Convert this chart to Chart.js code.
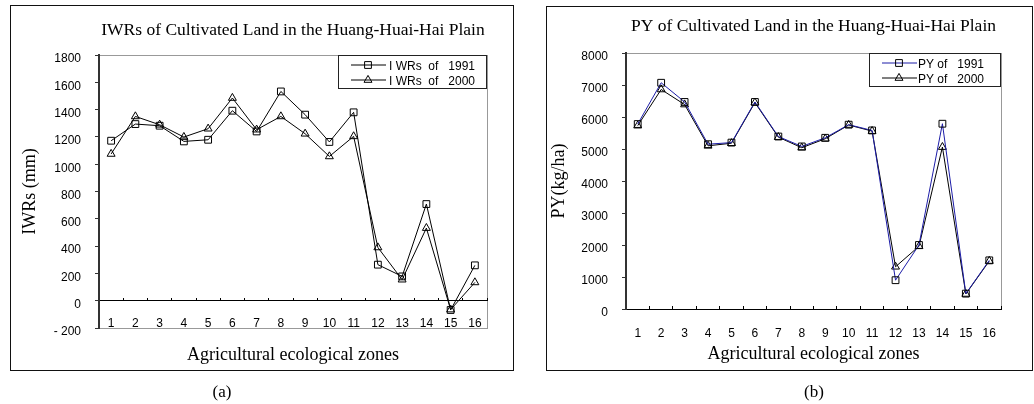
<!DOCTYPE html>
<html>
<head>
<meta charset="utf-8">
<script src="https://cdn.jsdelivr.net/npm/chart.js@4.4.1/dist/chart.umd.min.js"></script>
<style>
  body { margin: 0; background: #fff; width: 1034px; height: 404px; position: relative; overflow: hidden; }
  .panel { position: absolute; border: 1.5px solid #111; box-sizing: border-box; }
  #panelA { left: 10px; top: 5px; width: 504px; height: 366px; }
  #panelB { left: 546px; top: 6px; width: 487px; height: 365px; }
  canvas { position: absolute; top: 0; }
  #iwrChart { left: 0; }
  #pyChart { left: 517px; }
  .caption { position: absolute; top: 382px; width: 60px; text-align: center; line-height: 20px;
             font: 17px "Liberation Serif", "Times New Roman", serif; }
</style>
</head>
<body>
<div class="panel" id="panelA"></div>
<div class="panel" id="panelB"></div>
<canvas id="iwrChart" width="517" height="404"></canvas>
<canvas id="pyChart" width="517" height="404"></canvas>
<div class="caption" style="left:192px">(a)</div>
<div class="caption" style="left:784px">(b)</div>
<script>
const zones = ['1', '2', '3', '4', '5', '6', '7', '8', '9', '10', '11', '12', '13', '14', '15', '16'];

const iwr1991 = [1172, 1294, 1282, 1167, 1179, 1392, 1240, 1533, 1363, 1163, 1380, 264, 178, 708, -68, 259];
const iwr2000 = [1075, 1350, 1289, 1199, 1260, 1485, 1253, 1350, 1223, 1057, 1204, 390, 154, 532, -65, 134];

const py1991 = [5780, 7070, 6470, 5150, 5200, 6470, 5390, 5080, 5350, 5760, 5580, 900, 2000, 5790, 480, 1520];
const py2000 = [5730, 6860, 6390, 5100, 5180, 6450, 5370, 5040, 5320, 5750, 5560, 1320, 1960, 5060, 470, 1500];

const serif = '"Liberation Serif", "Times New Roman", serif';
const sans = '"Liberation Sans", Arial, sans-serif';

// frame of the plot area (top, right, bottom); axes are drawn over it
const plotFrame = {
    id: 'plotFrame',
    beforeDraw(chart, args, opts) {
        const { ctx, chartArea: a } = chart;
        ctx.save();
        ctx.strokeStyle = opts.color;
        ctx.lineWidth = 1;
        ctx.strokeRect(a.left + 0.5, a.top + 0.5, a.right - a.left, a.bottom - a.top);
        ctx.restore();
    }
};

// Excel style legend: line with marker, boxed in the top right corner
const markerLegend = {
    id: 'markerLegend',
    afterDatasetsDraw(chart, args, opts) {
        const { ctx, chartArea } = chart;
        const x = chartArea.right - opts.width;
        const y = chartArea.top;
        ctx.save();
        ctx.fillStyle = '#fff';
        ctx.fillRect(x, y, opts.width, opts.height);
        ctx.strokeStyle = '#222';
        ctx.lineWidth = 1;
        ctx.strokeRect(x + 0.5, y + 0.5, opts.width - 1, opts.height - 1);
        ctx.font = '12px ' + sans;
        ctx.textBaseline = 'middle';
        chart.data.datasets.forEach((ds, i) => {
            const rowY = y + 10 + i * 15;
            ctx.strokeStyle = ds.borderColor;
            ctx.beginPath();
            ctx.moveTo(x + 13, rowY);
            ctx.lineTo(x + 48, rowY);
            ctx.stroke();
            ctx.strokeStyle = ds.pointBorderColor;
            ctx.fillStyle = 'rgba(0,0,0,0)';
            Chart.helpers.drawPoint(ctx, { pointStyle: ds.pointStyle, radius: ds.pointRadius, borderWidth: 1, rotation: 0 }, x + 30, rowY);
            ctx.fillStyle = '#000';
            ctx.fillText(ds.legendText, x + opts.textX, rowY + 2);
        });
        ctx.restore();
    }
};

function serie(label, legendText, data, color, style, radius) {
    return {
        label, legendText, data,
        borderColor: color,
        borderWidth: 1,
        tension: 0,
        pointStyle: style,
        pointRadius: radius,
        pointHoverRadius: radius,
        pointBorderColor: '#000',
        pointBorderWidth: 1,
        pointBackgroundColor: 'rgba(0,0,0,0)'
    };
}

function yAxis(min, max, step, width, titleText) {
    return {
        min, max,
        afterFit: s => { s.width = width; },
        ticks: {
            stepSize: step,
            padding: 14,
            labelOffset: 4,
            color: '#000',
            font: { family: sans, size: 12 },
            callback: v => (v < 0 ? '- ' + Math.abs(v) : String(v))
        },
        grid: { drawOnChartArea: false, drawTicks: true, tickLength: 4, color: '#333' },
        border: { display: true, color: '#333', width: 2 },
        title: {
            display: true, text: titleText, color: '#000',
            font: { family: serif, size: 18, lineHeight: 1 },
            padding: { top: 1, bottom: 0 }
        }
    };
}

function xTitle(bottomPad) {
    return {
        display: true, text: 'Agricultural ecological zones', color: '#000',
        font: { family: serif, size: 18, lineHeight: 1 },
        padding: { top: 0, bottom: bottomPad }
    };
}

function chartTitle(text, top, bottom) {
    return {
        display: true, text, color: '#000',
        fullSize: false,
        font: { family: serif, size: 17.5, weight: 'normal', lineHeight: '22px' },
        padding: { top, bottom }
    };
}

new Chart(document.getElementById('iwrChart'), {
    type: 'line',
    data: {
        labels: zones,
        datasets: [
            serie('IWRs of 1991', 'I WRs  of   1991', iwr1991, '#000', 'rect', 4.8),
            serie('IWRs of 2000', 'I WRs  of   2000', iwr2000, '#000', 'triangle', 4.6)
        ]
    },
    options: {
        responsive: false,
        animation: false,
        layout: { padding: { left: 20, right: 30, top: 0, bottom: 40 } },
        plugins: {
            legend: { display: false },
            tooltip: { enabled: false },
            title: chartTitle('IWRs of Cultivated Land in the Huang-Huai-Hai Plain', 19, 14),
            plotFrame: { color: '#999' },
            markerLegend: { width: 149, height: 34, textX: 51 }
        },
        scales: {
            x: {
                type: 'category',
                offset: true,
                afterFit: s => { s.height = 36; },
                grid: { display: false, drawTicks: false },
                border: { display: false },
                ticks: { mirror: true, padding: -3, maxRotation: 0, autoSkip: false, color: '#000', font: { family: sans, size: 12 } },
                title: xTitle(0)
            },
            x0: {
                type: 'category',
                axis: 'x',
                position: { y: 0 },
                offset: true,
                ticks: { display: false },
                grid: { offset: true, drawOnChartArea: false, drawTicks: true, tickLength: -3, color: '#000' },
                border: { display: true, color: '#000', width: 1 }
            },
            y: yAxis(-200, 1800, 200, 79, 'IWRs (mm)')
        }
    },
    plugins: [plotFrame, markerLegend]
});

new Chart(document.getElementById('pyChart'), {
    type: 'line',
    data: {
        labels: zones,
        datasets: [
            serie('PY of 1991', 'PY of   1991', py1991, '#1c1ca8', 'rect', 4.8),
            serie('PY of 2000', 'PY of   2000', py2000, '#000', 'triangle', 4.6)
        ]
    },
    options: {
        responsive: false,
        animation: false,
        layout: { padding: { left: 32, right: 33, top: 0, bottom: 40 } },
        plugins: {
            legend: { display: false },
            tooltip: { enabled: false },
            title: chartTitle('PY of Cultivated Land in the Huang-Huai-Hai Plain', 15, 16),
            plotFrame: { color: '#999' },
            markerLegend: { width: 132, height: 34, textX: 49 }
        },
        scales: {
            x: {
                type: 'category',
                offset: true,
                afterFit: s => { s.height = 55; },
                grid: { offset: true, drawOnChartArea: false, drawTicks: true, tickLength: -3, color: '#000' },
                border: { display: true, color: '#000', width: 1 },
                ticks: { padding: 20, maxRotation: 0, autoSkip: false, color: '#000', font: { family: sans, size: 12 } },
                title: xTitle(1)
            },
            y: yAxis(0, 8000, 1000, 77, 'PY(kg/ha)')
        }
    },
    plugins: [plotFrame, markerLegend]
});
</script>
</body>
</html>
